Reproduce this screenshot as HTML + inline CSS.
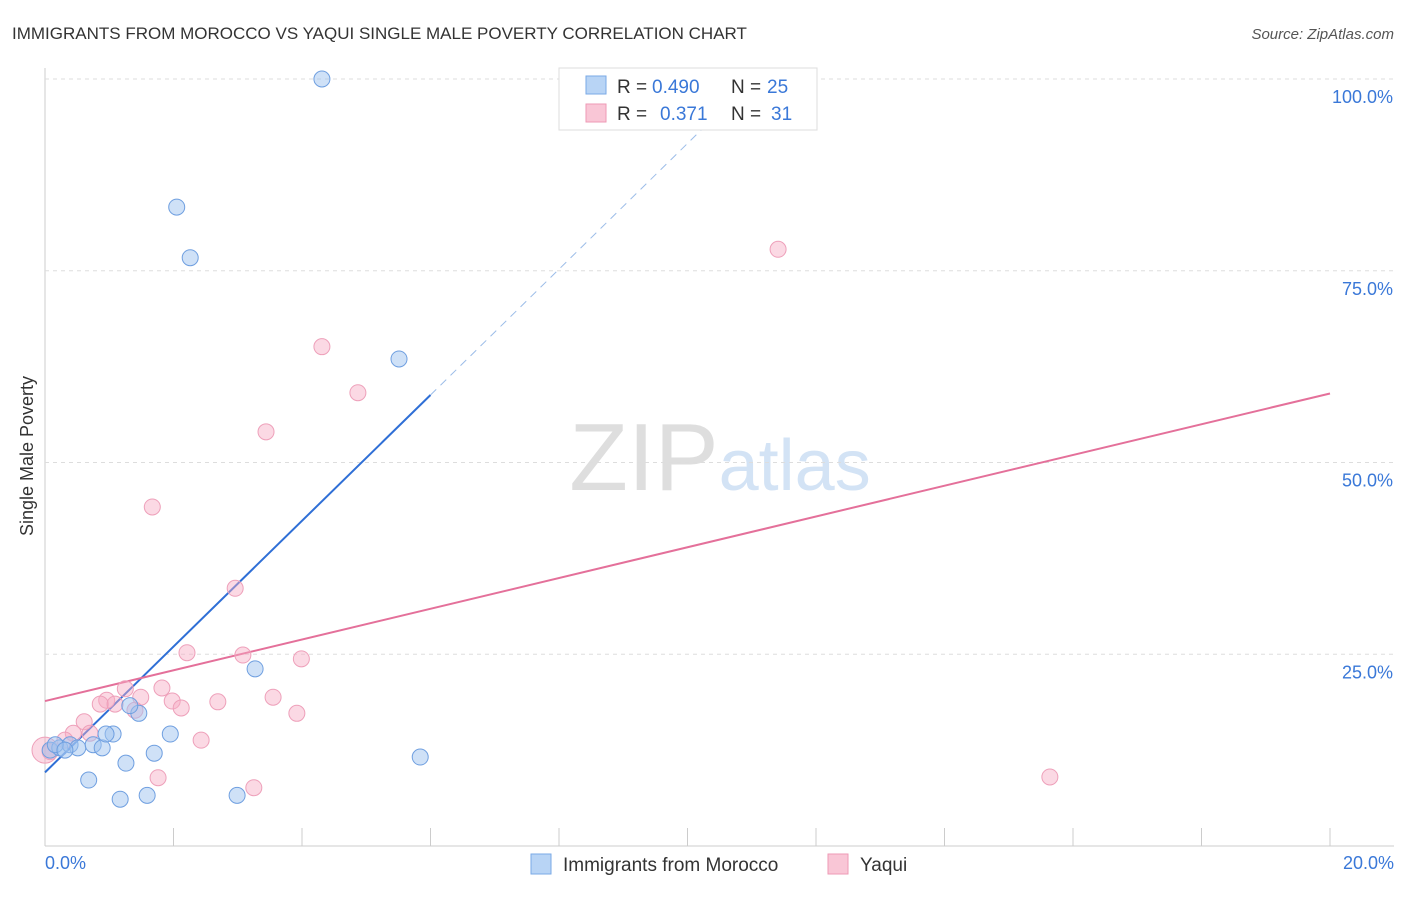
<!DOCTYPE html>
<html><head><meta charset="utf-8"><style>
body{margin:0;background:#fff;font-family:"Liberation Sans",sans-serif;}
svg text{font-family:"Liberation Sans",sans-serif;}
</style></head><body>
<svg id="chart" width="1406" height="892">
<text x="12" y="39" font-size="17" fill="#333">IMMIGRANTS FROM MOROCCO VS YAQUI SINGLE MALE POVERTY CORRELATION CHART</text>
<text x="1394" y="39" font-size="15" fill="#555" font-style="italic" text-anchor="end">Source: ZipAtlas.com</text>
<text x="33" y="456" font-size="18" fill="#333" text-anchor="middle" transform="rotate(-90 33 456)">Single Male Poverty</text>
<text x="720" y="490" font-size="96" text-anchor="middle" font-family="Liberation Serif"><tspan fill="#dedede">ZIP</tspan><tspan fill="#d3e3f5" font-family="Liberation Sans" font-size="72">atlas</tspan></text>
<g id="grid"></g><g id="lines"></g><g id="pts"></g>
<g>
<rect x="559" y="68" width="258" height="62" fill="#fff" stroke="#ddd"/>
<rect x="586" y="76" width="20" height="18" fill="#b8d4f5" stroke="#7aaae6"/>
<text x="617" y="93" font-size="19" fill="#333">R =</text>
<text x="652" y="93" font-size="19" fill="#3a78d8">0.490</text>
<text x="731" y="93" font-size="19" fill="#333">N =</text>
<text x="767" y="93" font-size="19" fill="#3a78d8">25</text>
<rect x="586" y="104" width="20" height="18" fill="#f9c6d6" stroke="#ee9ab5"/>
<text x="617" y="120" font-size="19" fill="#333">R =</text>
<text x="660" y="120" font-size="19" fill="#3a78d8">0.371</text>
<text x="731" y="120" font-size="19" fill="#333">N =</text>
<text x="771" y="120" font-size="19" fill="#3a78d8">31</text>
</g>
<g>
<rect x="531" y="854" width="20" height="20" fill="#b8d4f5" stroke="#7aaae6"/>
<text x="563" y="871" font-size="19" fill="#333">Immigrants from Morocco</text>
<rect x="828" y="854" width="20" height="20" fill="#f9c6d6" stroke="#ee9ab5"/>
<text x="860" y="871" font-size="19" fill="#333">Yaqui</text>
</g>
</svg>
<script>
const yTicks=[25,50,75,100];
const xTickCount=10;
const blueX=[4.31,2.05,2.26,5.51,3.27,1.46,1.32,1.06,1.95,1.70,1.26,0.68,1.17,1.59,2.99,5.84,0.08,0.23,0.39,0.51,0.75,0.89,0.16,0.31,0.95];
const blueY=[100,83.3,76.7,63.5,23.1,17.3,18.3,14.6,14.6,12.1,10.8,8.6,6.1,6.6,6.6,11.6,12.5,12.8,13.2,12.8,13.2,12.8,13.2,12.5,14.6];
const pinkX=[11.41,4.31,4.87,3.44,1.67,2.96,2.21,3.08,3.99,1.25,1.82,1.49,3.55,0.96,0.86,1.09,2.69,1.98,2.12,3.92,1.40,0.61,0.44,0.70,2.43,0.31,1.76,3.25,15.64,0.08,0.0];
const pinkY=[77.8,65.1,59.1,54.0,44.2,33.6,25.2,24.9,24.4,20.5,20.6,19.4,19.4,19.0,18.5,18.5,18.8,18.9,18.0,17.3,17.7,16.2,14.7,14.7,13.8,13.8,8.9,7.6,9.0,12.3,12.5];
const blueLine=[9.6,8.2];
const pinkLine=[18.9,2.005];
const sx=v=>45+v*64.25, sy=v=>846-v*7.67;
const NS="http://www.w3.org/2000/svg";
function mk(tag,attrs,parent){const e=document.createElementNS(NS,tag);for(const k in attrs)e.setAttribute(k,attrs[k]);document.getElementById(parent).appendChild(e);return e;}
let ax=mk('line',{x1:45,y1:846,x2:1394,y2:846,stroke:'#ccc'},'grid');


let ay=mk('line',{x1:45,y1:68,x2:45,y2:846,stroke:'#ccc'},'grid');


yTicks.forEach(t=>{
 let g=mk('line',{x1:45,y1:sy(t),x2:1394,y2:sy(t),stroke:'#ddd','stroke-dasharray':'4 4'},'grid');
 
 
 let l=mk('text',{x:1393,y:sy(t)+24,'font-size':18,fill:'#3a78d8','text-anchor':'end'},'grid');l.textContent=t.toFixed(1)+'%';
 
 
});
for(let i=1;i<=xTickCount;i++){
 let t=mk('line',{x1:sx(i*2),y1:828,x2:sx(i*2),y2:846,stroke:'#ccc'},'grid');
 
 
}
let xl0=mk('text',{x:45,y:869,'font-size':18,fill:'#3a78d8'},'grid');xl0.textContent='0.0%';


let xl1=mk('text',{x:1394,y:869,'font-size':18,fill:'#3a78d8','text-anchor':'end'},'grid');xl1.textContent='20.0%';


const bEnd=6, bDash=(100-blueLine[0])/blueLine[1];
let bl=mk('line',{x1:sx(0),y1:sy(blueLine[0]),x2:sx(bEnd),y2:sy(blueLine[0]+blueLine[1]*bEnd),stroke:'#2f6fd6','stroke-width':2},'lines');


let bd=mk('line',{x1:sx(bEnd),y1:sy(blueLine[0]+blueLine[1]*bEnd),x2:sx(bDash),y2:sy(100),stroke:'#9bbce8','stroke-width':1,'stroke-dasharray':'8 6'},'lines');


let pl=mk('line',{x1:sx(0),y1:sy(pinkLine[0]),x2:sx(20),y2:sy(pinkLine[0]+pinkLine[1]*20),stroke:'#e4709a','stroke-width':2},'lines');


pinkX.forEach((x,i)=>{
 let c=mk('circle',{cx:sx(x),cy:sy(pinkY[i]),r:i==pinkX.length-1?13:8,fill:'rgba(246,170,195,0.45)',stroke:'#eea0ba','stroke-width':1},'pts');
 
 
});
blueX.forEach((x,i)=>{
 let c=mk('circle',{cx:sx(x),cy:sy(blueY[i]),r:8,fill:'rgba(160,195,240,0.5)',stroke:'#6f9fe0','stroke-width':1},'pts');
 
 
});
</script>
</body></html>
